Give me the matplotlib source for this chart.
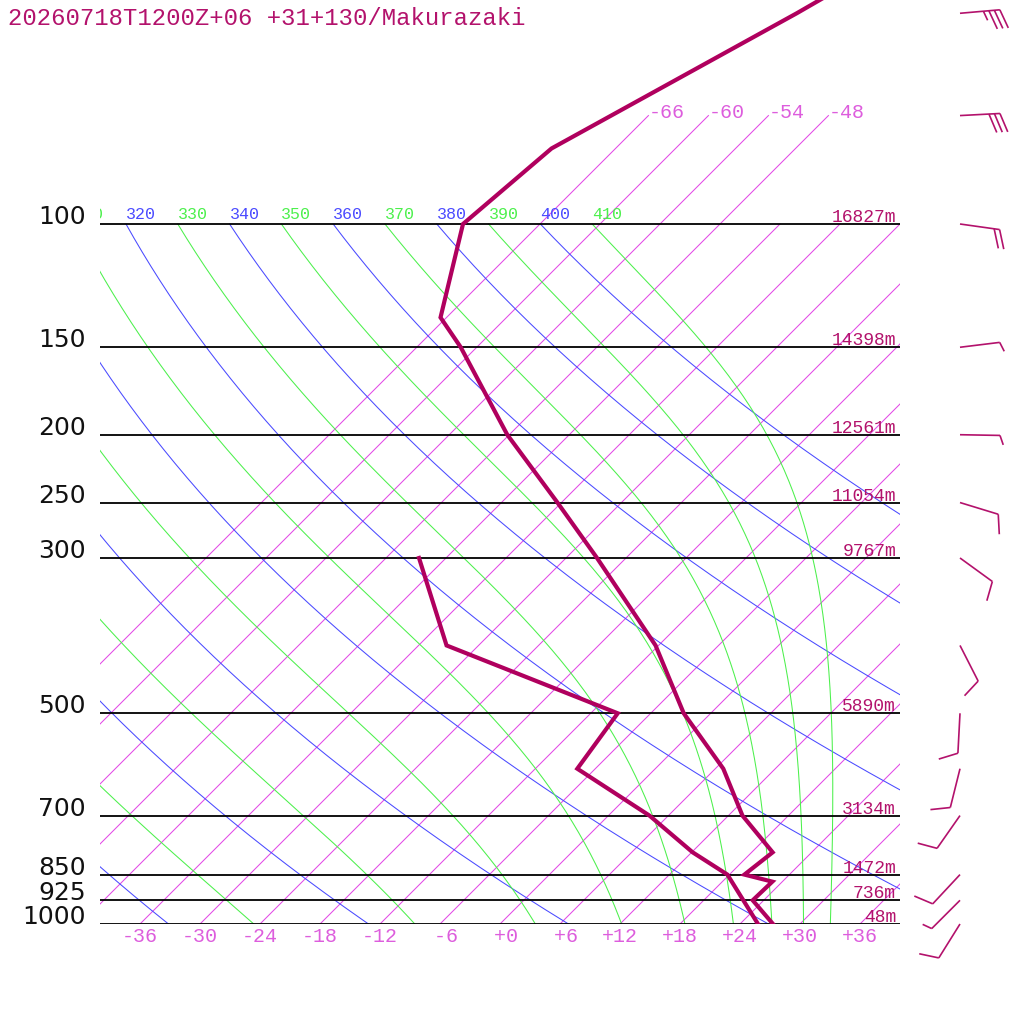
import numpy as np
import matplotlib
matplotlib.use("Agg")
import matplotlib.pyplot as plt
from matplotlib.collections import LineCollection
from matplotlib.ticker import NullLocator
from matplotlib.transforms import blended_transform_factory, offset_copy

# sounding: Makurazaki, 2026-07-18 12Z +06
TITLE = "20260718T1200Z+06 +31+130/Makurazaki"

temp_p = [1000, 925, 870, 850, 790, 700, 600, 500, 400, 300, 250, 200, 150, 136, 100, 78, 50, 30]
temp_c = [27.3, 22.9, 23.0, 19.5, 20.1, 13.4, 6.8, -2.7, -12.3, -26.9, -36.4, -48.2, -61.6, -66.6,
          -73.7, -72.4, -61.4, -50.0]

dewp_p = [1000, 850, 790, 700, 600, 500, 400, 300]
dewp_c = [25.8, 17.8, 12.1, 4.1, -7.8, -9.3, -33.2, -44.7]

level_p = [100, 150, 200, 250, 300, 500, 700, 850, 925, 1000]
level_z = [16827, 14398, 12561, 11054, 9767, 5890, 3134, 1472, 736, 48]

wind_p = [1000, 925, 850, 700, 600, 500, 400, 300, 250, 200, 150, 100, 70, 50]
wind_dir = [212, 225, 223, 215, 194, 183, 153, 126, 107, 91, 83, 98, 87, 85]
wind_kt = [10, 5, 10, 10, 10, 10, 10, 10, 10, 5, 5, 20, 30, 35]

isotherms = list(range(-66, 37, 6))
upper_isotherms = [-66, -60, -54, -48]   # these go on up to 70 hPa
temp_ticks = list(range(-36, 37, 6))
dry_thetas = list(range(240, 401, 20))
moist_thetas = list(range(250, 411, 20))

C_PROFILE = "#b0005e"
C_TEXT = "#b3126c"
C_ISO = "#e24ae6"
C_ISO_TXT = "#dd5ddd"
C_DRY = "#4a4aff"
C_MOIST = "#4cf04c"

SKEW = 70.0
KAPPA = 0.2857
RD, CP, LV, EPS = 287.04, 1005.7, 2.501e6, 0.622
MONO = "Liberation Mono"


def skew_x(t, p):
    return np.asarray(t, float) + SKEW * np.log10(1000.0 / np.asarray(p, float))


def dtdp_moist(t, p):
    es = 6.112 * np.exp(17.67 * (t - 273.15) / (t - 29.65))
    rs = EPS * es / (p - es)
    num = RD * t + LV * rs
    den = CP + LV ** 2 * rs * EPS / (RD * t ** 2)
    return num / (den * p)


def moist_adiabat(theta_top, p):
    # integrate the pseudo-adiabat down from 100 hPa
    t = theta_top * (p[0] / 1000.0) ** KAPPA
    out = [t]
    for p0, p1 in zip(p[:-1], p[1:]):
        h = p1 - p0
        k1 = dtdp_moist(t, p0)
        k2 = dtdp_moist(t + h * k1 / 2, p0 + h / 2)
        k3 = dtdp_moist(t + h * k2 / 2, p0 + h / 2)
        k4 = dtdp_moist(t + h * k3, p1)
        t = t + h * (k1 + 2 * k2 + 2 * k3 + k4) / 6
        out.append(t)
    return np.array(out) - 273.15


fig = plt.figure(figsize=(10.24, 10.24), dpi=100)
ax = fig.add_axes([100 / 1024, 100 / 1024, 800 / 1024, 924 / 1024])
ax.set_yscale("log")
ax.set_xlim(-40, 40)
ax.set_ylim(1000, 1000 * 10 ** (-924 / 700))
for s in ax.spines.values():
    s.set_visible(False)
ax.set_yticks([])
ax.yaxis.set_minor_locator(NullLocator())

p_col = np.geomspace(100, 1000, 200)

# isotherms
for t in isotherms:
    ptop = 70 if t in upper_isotherms else 100
    pp = np.array([ptop, 1000])
    ax.plot(skew_x([t, t], pp), pp, color=C_ISO, lw=0.75, zorder=2)
    if t in upper_isotherms:
        ax.text(skew_x(t, ptop), ptop, f"{t:+d}", color=C_ISO_TXT, fontsize=14.4,
                family=MONO, ha="left", va="baseline", zorder=5,
                transform=offset_copy(ax.transData, fig=fig, x=0, y=-2, units="dots"))

lab_tr = offset_copy(ax.transData, fig=fig, x=0, y=5, units="dots")


def theta_label(x, th, color):
    # only labels that show at least partly inside the frame
    if x > -45:
        ax.text(x, 100, str(th), color=color, fontsize=12, family=MONO,
                ha="left", va="baseline", transform=lab_tr, clip_on=True, zorder=5)


# dry adiabats
for th in dry_thetas:
    tt = th * (p_col / 1000.0) ** KAPPA - 273.15
    ax.plot(skew_x(tt, p_col), p_col, color=C_DRY, lw=0.75, zorder=2)
    theta_label(skew_x(tt[0], 100), th, C_DRY)

# moist adiabats
for th in moist_thetas:
    tt = moist_adiabat(th, p_col)
    ax.plot(skew_x(tt, p_col), p_col, color=C_MOIST, lw=0.75, zorder=2)
    theta_label(skew_x(tt[0], 100), th, C_MOIST)

# pressure levels
blend = blended_transform_factory(ax.transAxes, ax.transData)
for p, z in zip(level_p, level_z):
    ax.plot([-40, 40], [p, p], color="black", lw=1.3, zorder=3)
    ax.text(-14 / 800, p, str(p), transform=blend, ha="right", va="baseline",
            fontsize=18, family="DejaVu Sans", color="#111111", clip_on=False)
    ax.text(1.0, p, f"{z}m", ha="right", va="baseline", fontsize=13, family=MONO,
            color=C_TEXT, zorder=5,
            transform=offset_copy(blend, fig=fig, x=-4, y=2, units="dots"))

# sounding
ax.plot(skew_x(temp_c, temp_p), temp_p, color=C_PROFILE, lw=3.0, zorder=4,
        solid_joinstyle="miter")
ax.plot(skew_x(dewp_c, dewp_p), dewp_p, color=C_PROFILE, lw=3.0, zorder=4,
        solid_joinstyle="miter")

ax.set_xticks(temp_ticks)
ax.set_xticklabels([f"{t:+d}".rjust(3) for t in temp_ticks], family=MONO,
                   fontsize=14.4, color=C_ISO_TXT)
ax.tick_params(axis="x", length=0, pad=2)

fig.text(8 / 1024, 1 - 25 / 1024, TITLE, family=MONO, fontsize=17.2, color=C_TEXT,
         ha="left", va="baseline")

# wind barbs, in pixel space on an overlay
bx = fig.add_axes([0, 0, 1, 1])
bx.set_xlim(0, 1024)
bx.set_ylim(1024, 0)
bx.axis("off")

STAFF, FULL, HALF, GAP, ANG = 40.0, 20.0, 10.0, 5.5, np.radians(70)
segs = []
for p, d, v in zip(wind_p, wind_dir, wind_kt):
    y0 = 1024 - ax.transData.transform((0, p))[1]
    o = np.array([960.0, y0])
    r = np.radians(d)
    s = np.array([np.sin(r), -np.cos(r)])
    f = np.array([s[0] * np.cos(ANG) - s[1] * np.sin(ANG),
                  s[0] * np.sin(ANG) + s[1] * np.cos(ANG)])
    tip = o + STAFF * s
    segs.append([o, tip])
    n_full = int(v // 10)
    n_half = int(round((v - 10 * n_full) / 5))
    k = 0
    for _ in range(n_full):
        b = tip - k * GAP * s
        segs.append([b, b + FULL * f])
        k += 1
    for _ in range(n_half):
        b = tip - k * GAP * s
        segs.append([b, b + HALF * f])
        k += 1
bx.add_collection(LineCollection(segs, colors=C_TEXT, linewidths=1.2,
                                 capstyle="butt"))

fig.savefig("out.png", dpi=100)
